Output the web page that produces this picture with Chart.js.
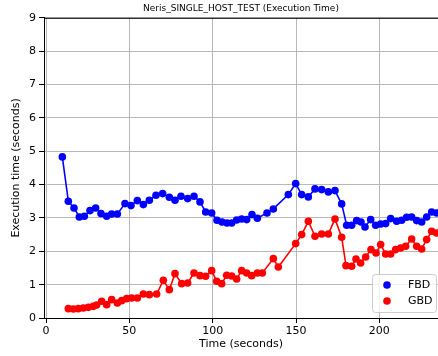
<!DOCTYPE html>
<html>
<head>
<meta charset="utf-8">
<script src="https://cdn.jsdelivr.net/npm/chart.js@4/dist/chart.umd.min.js"></script>
<style>
  html, body { margin: 0; padding: 0; background: #fff; }
  canvas { display: block; }
</style>
</head>
<body>
<canvas id="chart" width="438" height="356"></canvas>
<script>
// ── DATA ──────────────────────────────────────────────────────────────────
const fbdTime = [9.8, 13.4, 16.8, 20.0, 23.0, 26.4, 29.8, 33.0, 36.4, 39.4, 42.8, 47.4, 51.0, 54.8, 58.4,
  62.0, 66.0, 70.0, 74.0, 77.4, 81.0, 85.0, 88.8, 92.4, 95.8, 99.4, 102.6, 105.6, 108.6, 111.4, 114.4,
  117.4, 120.4, 123.6, 126.8, 132.6, 136.4, 145.4, 149.8, 153.4, 157.4, 161.4, 165.4, 169.4, 173.4,
  177.4, 180.4, 183.4, 186.4, 189.0, 191.4, 194.8, 197.8, 200.8, 203.8, 206.8, 210.4, 213.4, 216.4,
  219.4, 222.4, 225.4, 228.4, 231.4, 234.4];
const fbdExec = [4.83, 3.50, 3.30, 3.03, 3.05, 3.22, 3.30, 3.13, 3.05, 3.12, 3.12, 3.43, 3.37, 3.52, 3.40,
  3.53, 3.68, 3.73, 3.62, 3.53, 3.65, 3.58, 3.65, 3.48, 3.18, 3.15, 2.93, 2.88, 2.85, 2.85, 2.94,
  2.97, 2.95, 3.10, 2.99, 3.15, 3.27, 3.70, 4.03, 3.70, 3.63, 3.87, 3.85, 3.78, 3.82,
  3.42, 2.78, 2.78, 2.92, 2.88, 2.73, 2.95, 2.78, 2.82, 2.83, 2.98, 2.90, 2.93, 3.02,
  3.03, 2.92, 2.88, 3.03, 3.18, 3.15];

const gbdTime = [13.4, 16.4, 19.4, 22.4, 25.4, 28.4, 30.4, 33.4, 36.4, 39.4, 42.8, 45.4, 48.4, 51.4, 54.8,
  58.4, 62.0, 66.4, 70.4, 74.0, 77.4, 81.4, 85.0, 88.8, 92.4, 95.8, 99.4, 102.4, 105.4, 108.4, 111.4,
  114.4, 117.4, 120.4, 123.4, 126.8, 129.8, 136.4, 139.4, 149.8, 153.4, 157.4, 161.4, 165.4, 169.4,
  173.4, 177.4, 180.0, 183.4, 186.0, 188.8, 191.8, 195.0, 198.0, 200.8, 203.8, 206.8, 209.8, 212.8,
  215.8, 219.4, 222.4, 225.4, 228.4, 231.4, 234.4];
const gbdExec = [0.28, 0.27, 0.28, 0.30, 0.32, 0.35, 0.39, 0.50, 0.40, 0.55, 0.45, 0.52, 0.58, 0.60, 0.60,
  0.72, 0.70, 0.72, 1.13, 0.85, 1.33, 1.03, 1.05, 1.35, 1.27, 1.25, 1.42, 1.10, 1.03, 1.28, 1.26,
  1.17, 1.42, 1.35, 1.27, 1.35, 1.35, 1.78, 1.53, 2.23, 2.50, 2.90, 2.45, 2.52, 2.52,
  2.97, 2.42, 1.57, 1.55, 1.77, 1.65, 1.83, 2.05, 1.95, 2.20, 1.92, 1.92, 2.05, 2.10,
  2.15, 2.37, 2.15, 2.07, 2.35, 2.60, 2.55];

const xTicks = [0, 50, 100, 150, 200];
const yTicks = [0, 1, 2, 3, 4, 5, 6, 7, 8, 9];

const FONT = "'DejaVu Sans', sans-serif";
const BLUE = '#0000ff';
const RED  = '#ff0000';

const toPoints = (xs, ys) => xs.map((x, i) => ({ x, y: ys[i] }));

// ── PLUGINS ───────────────────────────────────────────────────────────────
// top spine of the axes box
const frameTop = {
  id: 'frameTop',
  afterDraw(chart) {
    const { ctx, chartArea: a } = chart;
    ctx.save();
    ctx.strokeStyle = '#000';
    ctx.lineWidth = 1;
    ctx.beginPath();
    ctx.moveTo(a.left, a.top + 0.5);
    ctx.lineTo(a.right, a.top + 0.5);
    ctx.stroke();
    ctx.restore();
  }
};

// legend box in the lower right corner of the plot
const boxLegend = {
  id: 'boxLegend',
  afterDraw(chart) {
    const { ctx } = chart;
    const items = [['FBD', BLUE], ['GBD', RED]];
    const bx = 372.5, by = 274.5, bw = 64, bh = 38;
    ctx.save();
    ctx.fillStyle = 'rgba(255,255,255,0.8)';
    ctx.strokeStyle = '#cccccc';
    ctx.lineWidth = 1;
    ctx.beginPath();
    ctx.roundRect(bx, by, bw, bh, 3);
    ctx.fill();
    ctx.stroke();
    ctx.font = `11px ${FONT}`;
    ctx.textBaseline = 'middle';
    items.forEach(([label, color], i) => {
      const cy = by + 10.5 + i * 16;
      ctx.fillStyle = color;
      ctx.beginPath();
      ctx.arc(bx + 14.5, cy, 3.8, 0, Math.PI * 2);
      ctx.fill();
      ctx.fillStyle = '#000';
      ctx.fillText(label, bx + 35.5, cy);
    });
    ctx.restore();
  }
};

// ── CHART ─────────────────────────────────────────────────────────────────
const lineStyle = color => ({
  showLine: true,
  borderColor: color,
  backgroundColor: color,
  borderWidth: 1.6,
  pointRadius: 3.8,
  pointBorderWidth: 0,
  pointHoverRadius: 3.8,
  tension: 0,
});

new Chart(document.getElementById('chart'), {
  type: 'scatter',
  data: {
    datasets: [
      { label: 'FBD', data: toPoints(fbdTime, fbdExec), order: 1, ...lineStyle(BLUE) },
      { label: 'GBD', data: toPoints(gbdTime, gbdExec), order: 0, ...lineStyle(RED) },
    ],
  },
  options: {
    responsive: false,
    animation: false,
    devicePixelRatio: 1,
    layout: { padding: 0, autoPadding: false },
    plugins: {
      legend: { display: false },
      tooltip: { enabled: false },
      title: {
        display: true,
        text: 'Neris_SINGLE_HOST_TEST (Execution Time)',
        fullSize: false,
        color: '#000',
        font: { family: FONT, size: 9, weight: 'normal' },
        padding: { top: 3, bottom: 4 },
      },
    },
    scales: {
      x: {
        type: 'linear',
        min: -1.2,
        max: 235.2,
        afterBuildTicks: s => { s.ticks = xTicks.map(v => ({ value: v })); },
        afterFit: s => { s.height = 38; },
        ticks: { color: '#000', font: { family: FONT, size: 11 }, padding: 2, maxRotation: 0 },
        grid: { color: '#b8b8b8', lineWidth: 1, tickColor: '#000', tickLength: 5 },
        border: { color: '#000', width: 1 },
        title: {
          display: true, text: 'Time (seconds)', color: '#000',
          font: { family: FONT, size: 11 }, padding: { top: 0, bottom: 5 },
        },
      },
      y: {
        type: 'linear',
        min: 0,
        max: 9,
        afterBuildTicks: s => { s.ticks = yTicks.map(v => ({ value: v })); },
        afterFit: s => { s.width = 44; },
        ticks: { color: '#000', font: { family: FONT, size: 11 }, padding: 3 },
        grid: { color: '#b8b8b8', lineWidth: 1, tickColor: '#000', tickLength: 5 },
        border: { color: '#000', width: 1 },
        title: {
          display: true, text: 'Execution time (seconds)', color: '#000',
          font: { family: FONT, size: 11 }, padding: { top: 10, bottom: 6 },
        },
      },
    },
  },
  plugins: [frameTop, boxLegend],
});
</script>
</body>
</html>
